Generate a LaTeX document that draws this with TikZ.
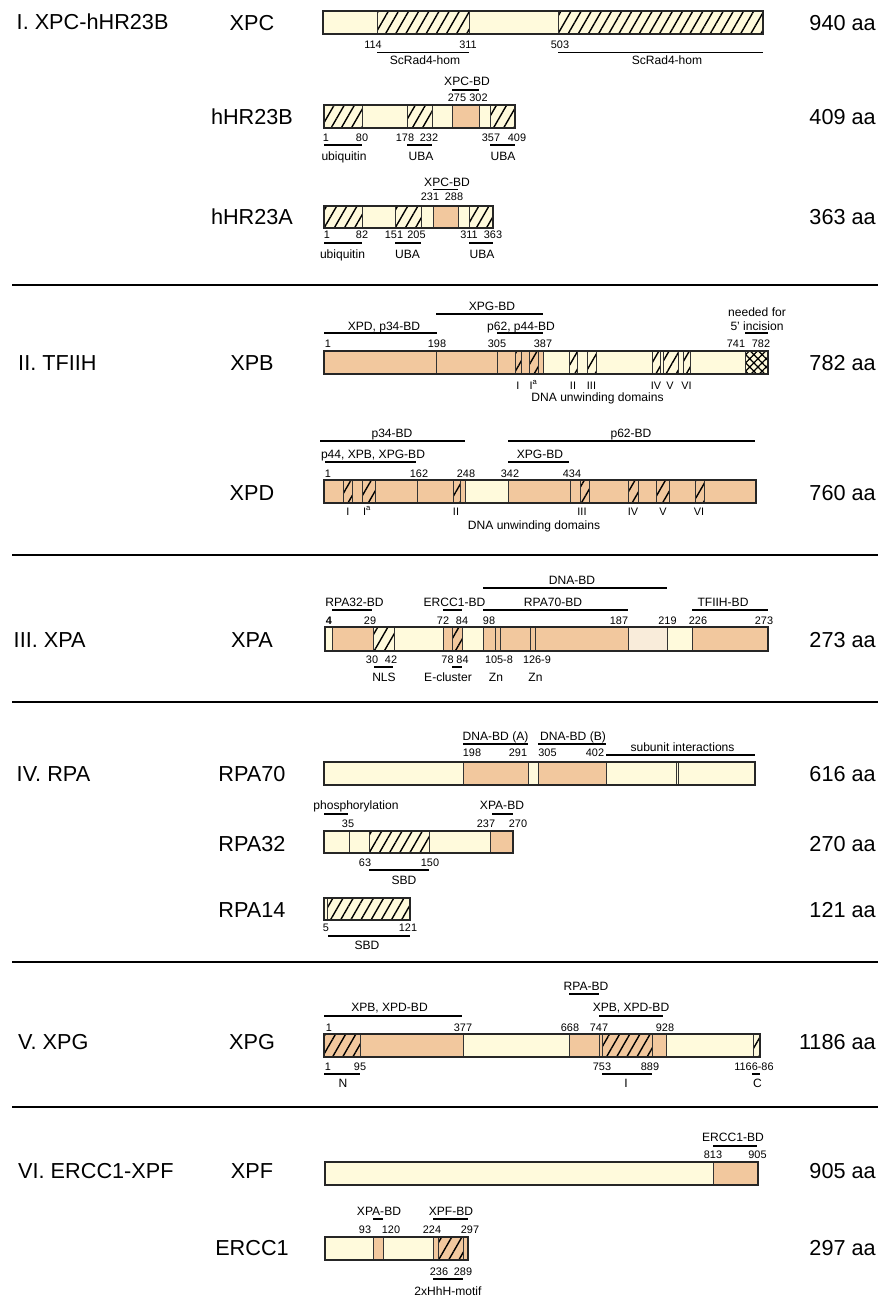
\documentclass[tikz,border=0pt]{standalone}
\usepackage{fontspec}
\setmainfont{Liberation Sans}
\usetikzlibrary{patterns.meta}
\definecolor{creamc}{RGB}{255,250,220}
\definecolor{tanc}{RGB}{242,200,158}
\definecolor{palec}{RGB}{249,236,218}
\tikzset{
  seg/.style={draw=black!80, line width=0.8pt},
  sCream/.style={fill=creamc},
  sTan/.style={fill=tanc},
  sPale/.style={fill=palec},
  sHatch/.style={preaction={fill=creamc}, pattern={Lines[angle=60,distance=7.5pt,line width=1.2pt]}},
  sTanHatch/.style={preaction={fill=tanc}, pattern={Lines[angle=60,distance=7.5pt,line width=1.2pt]}},
  sCross/.style={preaction={fill=creamc}, pattern={Hatch[angle=45,distance=5pt,line width=1.1pt]}},
  bar/.style={draw=black!85, line width=1.6pt},
  bd/.style={line width=1.6pt},
  thinbd/.style={line width=0.8pt},
  secline/.style={line width=2pt},
  head/.style={font=\fontsize{18.5}{20}\selectfont, anchor=base west, inner sep=0pt},
  prot/.style={font=\fontsize{18.5}{20}\selectfont, anchor=base, inner sep=0pt},
  aalab/.style={font=\fontsize{18.5}{20}\selectfont, anchor=base east, inner sep=0pt},
  num/.style={font=\fontsize{9.3}{10}\selectfont, anchor=base, inner sep=0pt},
  lab/.style={font=\fontsize{10.3}{12}\selectfont, anchor=base, inner sep=0pt},
}
\begin{document}
\begin{tikzpicture}[x=0.03cm, y=-0.03cm]
\useasboundingbox (0,0) rectangle (885,1299);

%% I. XPC-hHR23B
\node[head] (tI) at (16.5,29.5) {I. XPC-hHR23B};
% XPC
\node[prot] (nXPC) at (252,31) {XPC};
\node[aalab] (aXPC) at (876,31) {940 aa};
\foreach \a/\b/\s in {323/377/sCream, 377/469/sHatch, 469/558/sCream, 558/763/sHatch}
  \draw[seg,\s] (\a,11) rectangle (\b,34);
\draw[bar] (323,11) rectangle (763,34);
\foreach \x/\t [count=\i] in {373/114, 468/311, 560/503}
  \node[num] (xpcN\i) at (\x,49) {\t};
\draw[thinbd] (377,52) -- (469,52);
\draw[thinbd] (558,52) -- (763,52);
\node[lab] (xpcL1) at (425,65) {ScRad4-hom};
\node[lab] (xpcL2) at (667,65) {ScRad4-hom};

% hHR23B
\node[prot] (nHRB) at (252,125) {hHR23B};
\node[aalab] (aHRB) at (876,125) {409 aa};
\node[lab] (hrbBD) at (467,86) {XPC-BD};
\draw[bd] (452,90) -- (479,90);
\node[num] (hrbT1) at (457,101.5) {275};
\node[num] (hrbT2) at (478.5,101.5) {302};
\foreach \a/\b/\s in {324/362/sHatch, 362/407/sCream, 407/432/sHatch, 432/452/sCream,
                      452/479/sTan, 479/490/sCream, 490/515/sHatch}
  \draw[seg,\s] (\a,105) rectangle (\b,128);
\draw[bar] (324,105) rectangle (515,128);
\foreach \x/\t [count=\i] in {326/1, 362/80, 405/178, 429/232, 491/357, 517/409}
  \node[num] (hrbN\i) at (\x,141.5) {\t};
\draw[bd] (324,145) -- (362,145);
\draw[bd] (407,145) -- (432,145);
\draw[bd] (490,145) -- (515,145);
\node[lab] (hrbL1) at (344,160.5) {ubiquitin};
\node[lab] (hrbL2) at (421,160.5) {UBA};
\node[lab] (hrbL3) at (503,160.5) {UBA};

% hHR23A
\node[prot] (nHRA) at (252,225) {hHR23A};
\node[aalab] (aHRA) at (876,225) {363 aa};
\node[lab] (hraBD) at (447,186.7) {XPC-BD};
\draw[bd] (433,189.5) -- (458,189.5);
\node[num] (hraT1) at (430,200.7) {231};
\node[num] (hraT2) at (454,200.7) {288};
\foreach \a/\b/\s in {324/362/sHatch, 362/395/sCream, 395/421/sHatch, 421/433/sCream,
                      433/458/sTan, 458/469/sCream, 469/493/sHatch}
  \draw[seg,\s] (\a,206) rectangle (\b,228);
\draw[bar] (324,206) rectangle (493,228);
\foreach \x/\t [count=\i] in {327/1, 362/82, 394/151, 416.5/205, 469/311, 493/363}
  \node[num] (hraN\i) at (\x,239) {\t};
\draw[bd] (324,243) -- (362,243);
\draw[bd] (395,243) -- (421,243);
\draw[bd] (469,243) -- (493,243);
\node[lab] (hraL1) at (342.5,258.3) {ubiquitin};
\node[lab] (hraL2) at (407.5,258.3) {UBA};
\node[lab] (hraL3) at (482,258.3) {UBA};

\draw[secline] (12,285) -- (878,285);

%% II. TFIIH
\node[head] (tII) at (18,370.5) {II. TFIIH};
% XPB
\node[prot] (nXPB) at (252,370.5) {XPB};
\node[aalab] (aXPB) at (876,370.5) {782 aa};
\node[lab] (xpbL1) at (492,310.5) {XPG-BD};
\draw[bd] (436,314) -- (543,314);
\node[lab] (xpbL2) at (384,330) {XPD, p34-BD};
\node[lab] (xpbL3) at (521,330) {p62, p44-BD};
\draw[bd] (324,333.3) -- (437,333.3);
\draw[bd] (497,333.3) -- (543,333.3);
\node[lab] (xpbL4) at (757,316) {needed for};
\node[lab] (xpbL5) at (757,330) {5' incision};
\draw[bd] (745,333.3) -- (768,333.3);
\foreach \x/\t [count=\i] in {328/1, 437/198, 497/305, 543/387, 736/741, 761/782}
  \node[num] (xpbN\i) at (\x,347.3) {\t};
\foreach \a/\b/\s in {324/436/sTan, 436/497/sTan, 497/515/sTan, 515/521/sTanHatch,
                      521/529/sTan, 529/538/sTanHatch, 538/543/sTan, 543/569/sCream,
                      569/577/sHatch, 577/587/sCream, 587/596/sHatch, 596/652/sCream,
                      652/660/sHatch, 660/663/sCream, 663/678/sHatch, 678/683/sCream,
                      683/690/sHatch, 690/745/sCream, 745/768/sCross}
  \draw[seg,\s] (\a,351) rectangle (\b,374);
\draw[bar] (324,351) rectangle (768,374);
\foreach \x/\t [count=\i] in {518/I, 533.5/I\textsuperscript{a}, 573/II, 591.5/III, 656/IV, 670/V, 686.5/VI}
  \node[num] (xpbR\i) at (\x,389.3) {\t};
\node[lab] (xpbL6) at (597.5,401) {DNA unwinding domains};

% XPD
\node[prot] (nXPD) at (252,500.5) {XPD};
\node[aalab] (aXPD) at (876,500.5) {760 aa};
\node[lab] (xpdL1) at (392,437.3) {p34-BD};
\draw[bd] (320,440.7) -- (465,440.7);
\node[lab] (xpdL2) at (631,437.3) {p62-BD};
\draw[bd] (508,440.7) -- (755,440.7);
\node[lab] (xpdL3) at (373,458.3) {p44, XPB, XPG-BD};
\draw[bd] (325,461.7) -- (416,461.7);
\node[lab] (xpdL4) at (540,458.3) {XPG-BD};
\draw[bd] (508,461.7) -- (569,461.7);
\foreach \x/\t [count=\i] in {328/1, 419/162, 466/248, 510/342, 572/434}
  \node[num] (xpdN\i) at (\x,477.3) {\t};
\foreach \a/\b/\s in {324/343/sTan, 343/352/sTanHatch, 352/362/sTan, 362/375/sTanHatch,
                      375/417/sTan, 417/453/sTan, 453/460/sTanHatch, 460/465/sTan,
                      465/508/sCream, 508/570/sTan, 570/580/sTan, 580/589/sTanHatch,
                      589/628/sTan, 628/638/sTanHatch, 638/656/sTan, 656/669/sTanHatch,
                      669/695/sTan, 695/704/sTanHatch, 704/756/sTan}
  \draw[seg,\s] (\a,480) rectangle (\b,503);
\draw[bar] (324,480) rectangle (756,503);
\foreach \x/\t [count=\i] in {348/I, 367/I\textsuperscript{a}, 456/II, 582/III, 633/IV, 663/V, 699/VI}
  \node[num] (xpdR\i) at (\x,515) {\t};
\node[lab] (xpdL5) at (534,529.3) {DNA unwinding domains};

\draw[secline] (12,555) -- (878,555);

%% III. XPA
\node[head] (tIII) at (13.5,647.3) {III. XPA};
\node[prot] (nXPA) at (252,647.3) {XPA};
\node[aalab] (aXPA) at (876,647.3) {273 aa};
\node[lab] (xpaL1) at (572,584.5) {DNA-BD};
\draw[bd] (483,588.3) -- (667,588.3);
\node[lab] (xpaL2) at (354.5,606) {RPA32-BD};
\draw[bd] (332,610) -- (372,610);
\node[lab] (xpaL3) at (454.5,606) {ERCC1-BD};
\draw[bd] (443,610) -- (462,610);
\node[lab] (xpaL4) at (553,606) {RPA70-BD};
\draw[bd] (483,610) -- (628,610);
\node[lab] (xpaL5) at (723,606) {TFIIH-BD};
\draw[bd] (692,610) -- (768,610);
\foreach \x/\t [count=\i] in {329/\textbf{4}, 370/29, 443/72, 462/84, 489/98, 619/187, 667.5/219, 698/226, 764/273}
  \node[num] (xpaN\i) at (\x,624.3) {\t};
\foreach \a/\b/\s in {325/332/sCream, 332/373/sTan, 373/394/sHatch, 394/443/sCream,
                      443/452/sTan, 452/462/sTanHatch, 462/483/sCream, 483/495/sTan,
                      495/500/sTan, 500/530/sTan, 530/535/sTan, 535/628/sTan,
                      628/667/sPale, 667/692/sCream, 692/768/sTan}
  \draw[seg,\s] (\a,627) rectangle (\b,651);
\draw[bar] (325,627) rectangle (768,651);
\foreach \x/\t [count=\i] in {372/30, 391/42, 447.5/78, 462.5/84, 499/105-8, 537/126-9}
  \node[num] (xpaB\i) at (\x,663.3) {\t};
\draw[bd] (374,667.3) -- (393,667.3);
\draw[bd] (452,667.3) -- (462,667.3);
\foreach \x/\t [count=\i] in {384/NLS, 448/E-cluster, 496/Zn, 535.5/Zn}
  \node[lab] (xpaM\i) at (\x,681.7) {\t};

\draw[secline] (12,702) -- (878,702);

%% IV. RPA
\node[head] (tIV) at (16.5,781.7) {IV. RPA};
% RPA70
\node[prot] (nR70) at (252,781.7) {RPA70};
\node[aalab] (aR70) at (876,781.7) {616 aa};
\node[lab] (r70L1) at (495.5,740) {DNA-BD (A)};
\draw[bd] (463,744.3) -- (528,744.3);
\node[lab] (r70L2) at (573,740) {DNA-BD (B)};
\draw[bd] (538,744.3) -- (606,744.3);
\node[lab] (r70L3) at (682.5,751.7) {subunit interactions};
\draw[bd] (606,755) -- (755,755);
\foreach \x/\t [count=\i] in {472/198, 518/291, 547.5/305, 595/402}
  \node[num] (r70N\i) at (\x,756.7) {\t};
\foreach \a/\b/\s in {324/463/sCream, 463/528/sTan, 528/538/sCream, 538/606/sTan,
                      606/676/sCream, 676/678/sCream, 678/755/sCream}
  \draw[seg,\s] (\a,762) rectangle (\b,785);
\draw[bar] (324,762) rectangle (755,785);

% RPA32
\node[prot] (nR32) at (252,851) {RPA32};
\node[aalab] (aR32) at (876,851) {270 aa};
\node[lab] (r32L1) at (356,809.3) {phosphorylation};
\draw[bd] (324,814) -- (348,814);
\node[lab] (r32L2) at (502,809.3) {XPA-BD};
\draw[bd] (492,814) -- (513,814);
\foreach \x/\t [count=\i] in {348/35, 486/237, 518/270}
  \node[num] (r32N\i) at (\x,827.3) {\t};
\foreach \a/\b/\s in {324/349/sCream, 349/369/sCream, 369/429/sHatch, 429/490/sCream, 490/513/sTan}
  \draw[seg,\s] (\a,831) rectangle (\b,853);
\draw[bar] (324,831) rectangle (513,853);
\node[num] (r32B1) at (365,866) {63};
\node[num] (r32B2) at (430,866) {150};
\draw[bd] (369,870) -- (429,870);
\node[lab] (r32L3) at (404,884) {SBD};

% RPA14
\node[prot] (nR14) at (252,917) {RPA14};
\node[aalab] (aR14) at (876,917) {121 aa};
\foreach \a/\b/\s in {324/327/sCream, 327/410/sHatch}
  \draw[seg,\s] (\a,898) rectangle (\b,920);
\draw[bar] (324,898) rectangle (410,920);
\node[num] (r14B1) at (326,931.7) {5};
\node[num] (r14B2) at (408,931.7) {121};
\draw[bd] (328,936) -- (410,936);
\node[lab] (r14L1) at (367,949.3) {SBD};

\draw[secline] (12,962) -- (878,962);

%% V. XPG
\node[head] (tV) at (18,1049.5) {V. XPG};
\node[prot] (nXPG) at (252,1049.5) {XPG};
\node[aalab] (aXPG) at (876,1049.5) {1186 aa};
\node[lab] (xpgL1) at (586,990) {RPA-BD};
\draw[bd] (569,994) -- (599,994);
\node[lab] (xpgL2) at (389.5,1011.7) {XPB, XPD-BD};
\draw[bd] (324,1015.7) -- (462,1015.7);
\node[lab] (xpgL3) at (631,1011.7) {XPB, XPD-BD};
\draw[bd] (599,1015.7) -- (663,1015.7);
\foreach \x/\t [count=\i] in {329/1, 463/377, 570/668, 599/747, 665/928}
  \node[num] (xpgN\i) at (\x,1031) {\t};
\foreach \a/\b/\s in {324/360/sTanHatch, 360/463/sTan, 463/569/sCream, 569/599/sTan,
                      599/602/sTan, 602/652/sTanHatch, 652/666/sTan, 666/753/sCream, 753/760/sHatch}
  \draw[seg,\s] (\a,1034) rectangle (\b,1057);
\draw[bar] (324,1034) rectangle (760,1057);
\foreach \x/\t [count=\i] in {328/1, 360/95, 602/753, 650/889, 754/1166-86}
  \node[num] (xpgB\i) at (\x,1070) {\t};
\draw[bd] (324,1074) -- (360,1074);
\draw[bd] (602,1074) -- (652,1074);
\draw[bd] (752,1074) -- (760,1074);
\foreach \x/\t [count=\i] in {343/N, 626/I, 757.5/C}
  \node[lab] (xpgM\i) at (\x,1087.3) {\t};

\draw[secline] (12,1107) -- (878,1107);

%% VI. ERCC1-XPF
\node[head] (tVI) at (18,1178) {VI. ERCC1-XPF};
% XPF
\node[prot] (nXPF) at (252,1178) {XPF};
\node[aalab] (aXPF) at (876,1178) {905 aa};
\node[lab] (xpfL1) at (733,1141) {ERCC1-BD};
\draw[bd] (713,1145.7) -- (757,1145.7);
\node[num] (xpfN1) at (713,1158.3) {813};
\node[num] (xpfN2) at (757.5,1158.3) {905};
\foreach \a/\b/\s in {325/713/sCream, 713/758/sTan}
  \draw[seg,\s] (\a,1162) rectangle (\b,1185);
\draw[bar] (325,1162) rectangle (758,1185);

% ERCC1
\node[prot] (nERC) at (252,1255) {ERCC1};
\node[aalab] (aERC) at (876,1255) {297 aa};
\node[lab] (ercL1) at (379,1215.7) {XPA-BD};
\draw[bd] (373,1219.3) -- (383,1219.3);
\node[lab] (ercL2) at (451,1215.7) {XPF-BD};
\draw[bd] (433,1219.3) -- (468,1219.3);
\foreach \x/\t [count=\i] in {365/93, 391/120, 432/224, 470/297}
  \node[num] (ercN\i) at (\x,1233.3) {\t};
\foreach \a/\b/\s in {325/373/sCream, 373/383/sTan, 383/433/sCream, 433/438/sTan,
                      438/463/sTanHatch, 463/468/sTan}
  \draw[seg,\s] (\a,1237) rectangle (\b,1260);
\draw[bar] (325,1237) rectangle (468,1260);
\node[num] (ercB1) at (439,1275) {236};
\node[num] (ercB2) at (463,1275) {289};
\draw[bd] (433,1279.3) -- (463,1279.3);
\node[lab] (ercL3) at (448,1295) {2xHhH-motif};
\end{tikzpicture}
\end{document}
